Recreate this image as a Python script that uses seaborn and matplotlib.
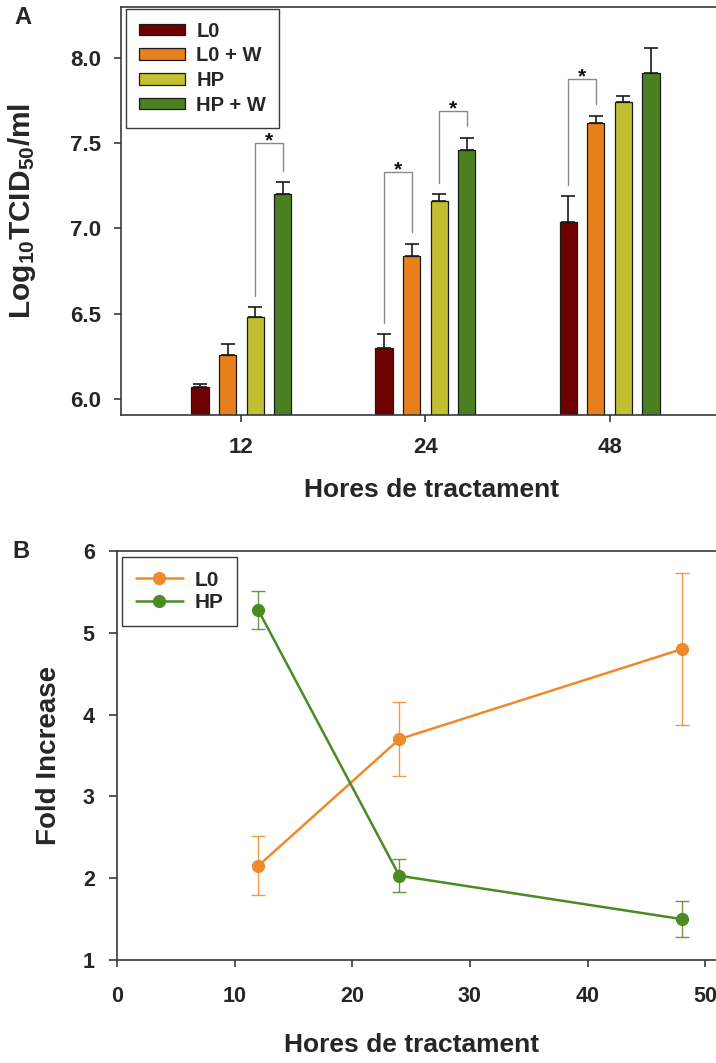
import matplotlib
matplotlib.use("Agg")
import matplotlib.pyplot as plt
import seaborn as sns
import pandas as pd
import numpy as np
from matplotlib.lines import Line2D

# ---------------- data ----------------
hour_labels = ["12", "24", "48"]
treatments = ["L0", "L0 + W", "HP", "HP + W"]

titre_l0 = [6.07, 6.30, 7.04]
titre_l0_err = [0.015, 0.08, 0.15]
titre_l0w = [6.26, 6.84, 7.62]
titre_l0w_err = [0.06, 0.07, 0.04]
titre_hp = [6.48, 7.16, 7.74]
titre_hp_err = [0.06, 0.04, 0.04]
titre_hpw = [7.20, 7.46, 7.91]
titre_hpw_err = [0.07, 0.07, 0.15]

# significance brackets: (hour, group a, group b, bracket level)
sig_pairs = [
    ("12", "HP", "HP + W", 7.50),
    ("24", "L0", "L0 + W", 7.33),
    ("24", "HP", "HP + W", 7.69),
    ("48", "L0", "L0 + W", 7.88),
]

fold_hours = [12, 24, 48]
fold_l0 = [2.15, 3.70, 4.80]
fold_l0_err = [0.36, 0.45, 0.93]
fold_hp = [5.28, 2.03, 1.50]
fold_hp_err = [0.23, 0.20, 0.22]

bar_colors = ["#6e0000", "#e8801c", "#c2c030", "#4a8020"]
line_colors = {"L0": "#ee8a2a", "HP": "#4c8a22"}

# ---------------- style ----------------
sns.set_style("ticks")
plt.rcParams["font.family"] = ["Liberation Sans", "DejaVu Sans"]
plt.rcParams["font.weight"] = "bold"
plt.rcParams["axes.labelweight"] = "bold"
plt.rcParams["mathtext.fontset"] = "custom"
plt.rcParams["mathtext.rm"] = "Liberation Sans:bold"
plt.rcParams["mathtext.default"] = "rm"
spine_col = "#3a3a3a"

W, H = 716, 1063
fig = plt.figure(figsize=(W / 100, H / 100), dpi=100)
axA = fig.add_axes([121 / W, 1 - 415 / H, (W - 121) / W + 0.003, (415 - 7) / H])
axB = fig.add_axes([117 / W, 1 - 960 / H, (W - 117) / W + 0.003, (960 - 551) / H])

# ---------------- panel A: titres ----------------
means = [titre_l0, titre_l0w, titre_hp, titre_hpw]
errs = [titre_l0_err, titre_l0w_err, titre_hp_err, titre_hpw_err]
dfA = pd.DataFrame({
    "hours": hour_labels * len(treatments),
    "treatment": np.repeat(treatments, len(hour_labels)),
    "value": np.concatenate(means),
    "err": np.concatenate(errs),
})

sns.barplot(data=dfA, x="hours", y="value", hue="treatment",
            order=hour_labels, hue_order=treatments, palette=bar_colors,
            saturation=1, width=0.6, gap=0.38, errorbar=None,
            edgecolor="#1a1a1a", linewidth=0.9, ax=axA)

centers = {}
tops = {}
for container, tr in zip(axA.containers, treatments):
    sub = dfA[dfA.treatment == tr].set_index("hours")
    for bar, hr in zip(container, hour_labels):
        x = bar.get_x() + bar.get_width() / 2
        v = sub.loc[hr, "value"]
        e = sub.loc[hr, "err"]
        centers[(hr, tr)] = x
        tops[(hr, tr)] = v + e
        axA.errorbar(x, v, yerr=[[0], [e]], fmt="none", ecolor="#1a1a1a",
                     elinewidth=1.2, capsize=4.7, capthick=1.2, zorder=3)

for hr, a, b, level in sig_pairs:
    x1, x2 = centers[(hr, a)], centers[(hr, b)]
    y1, y2 = tops[(hr, a)] + 0.065, tops[(hr, b)] + 0.07
    axA.plot([x1, x1, x2, x2], [y1, level, level, y2], color="#8a8a8a", lw=1.0)
    axA.text((x1 + x2) / 2, level - 0.02, "*", ha="center", va="baseline",
             fontsize=15, color="#111111", zorder=6)

leg = axA.legend(*axA.get_legend_handles_labels(), loc="upper left",
                 bbox_to_anchor=(0.008, 0.996), borderaxespad=0,
                 fontsize=14.5, handlelength=2.3, handleheight=0.5,
                 handletextpad=0.55, labelspacing=0.28, borderpad=0.65,
                 fancybox=False, framealpha=1, edgecolor=spine_col)
leg.get_frame().set_linewidth(1.0)
leg.set_zorder(4)

axA.set_ylim(5.905, 8.30)
axA.set_xlim(-0.654, 2.59)
axA.set_yticks([6.0, 6.5, 7.0, 7.5, 8.0])
axA.set_yticklabels([f"{t:.1f}" for t in [6.0, 6.5, 7.0, 7.5, 8.0]])
axA.tick_params(axis="x", direction="out", length=5, width=1.2, color=spine_col,
                labelsize=16, pad=11)
axA.tick_params(axis="y", direction="out", length=5, width=1.2, color=spine_col,
                labelsize=16, pad=9)
axA.spines["right"].set_visible(False)
for s in ["left", "top", "bottom"]:
    axA.spines[s].set_color(spine_col)
    axA.spines[s].set_linewidth(1.2)
axA.set_xlabel("Hores de tractament", fontsize=19)
axA.set_ylabel(r"Log$_{10}$TCID$_{50}$/ml", fontsize=21.5)
axA.xaxis.set_label_coords((430 - 121) / (W - 121), (415 - 478) / 408)
axA.yaxis.set_label_coords((38 - 121) / (W - 121), 0.5)

# ---------------- panel B: fold increase ----------------
dfB = pd.DataFrame({
    "hours": fold_hours * 2,
    "group": ["L0"] * 3 + ["HP"] * 3,
    "fold": fold_l0 + fold_hp,
    "err": fold_l0_err + fold_hp_err,
})

for grp in ["L0", "HP"]:
    sub = dfB[dfB.group == grp]
    axB.errorbar(sub.hours, sub.fold, yerr=sub.err, fmt="none",
                 ecolor=line_colors[grp], alpha=0.85, elinewidth=1.0,
                 capsize=5, capthick=1.0, zorder=2)

sns.lineplot(data=dfB, x="hours", y="fold", hue="group", hue_order=["L0", "HP"],
             palette=line_colors, marker="o", markersize=9.5, markeredgewidth=0,
             linewidth=1.8, errorbar=None, legend=False, ax=axB, zorder=3)

handles = [Line2D([], [], color=line_colors[g], marker="o", markersize=9.5,
                  markeredgewidth=0, lw=1.8) for g in ["L0", "HP"]]
legB = axB.legend(handles, ["L0", "HP"], loc="upper left",
                  bbox_to_anchor=(0.0085, 0.985), borderaxespad=0,
                  fontsize=15, handlelength=2.25, handletextpad=0.58,
                  labelspacing=0.17, borderpad=0.65, fancybox=False,
                  framealpha=1, edgecolor=spine_col)
legB.get_frame().set_linewidth(1.0)

axB.set_xlim(0, 51.1)
axB.set_ylim(1, 6)
axB.set_xticks([0, 10, 20, 30, 40, 50])
axB.set_yticks([1, 2, 3, 4, 5, 6])
axB.tick_params(axis="x", direction="out", length=5, width=1.2, color=spine_col,
                labelsize=15.5, pad=14)
axB.tick_params(axis="y", direction="out", length=6, width=1.2, color=spine_col,
                labelsize=15.5, pad=10)
axB.spines["right"].set_visible(False)
for s in ["left", "top", "bottom"]:
    axB.spines[s].set_color(spine_col)
    axB.spines[s].set_linewidth(1.2)
axB.set_xlabel("Hores de tractament", fontsize=19)
axB.set_ylabel("Fold Increase", fontsize=20)
axB.xaxis.set_label_coords((411 - 117) / (W - 117), (960 - 1033) / 409)
axB.yaxis.set_label_coords((62 - 117) / (W - 117), 0.5)

fig.text(23 / W, 1 - 17 / H, "A", ha="center", va="center", fontsize=17, weight="bold")
fig.text(21 / W, 1 - 552 / H, "B", ha="center", va="center", fontsize=17, weight="bold")

fig.savefig("out.png", dpi=100)
